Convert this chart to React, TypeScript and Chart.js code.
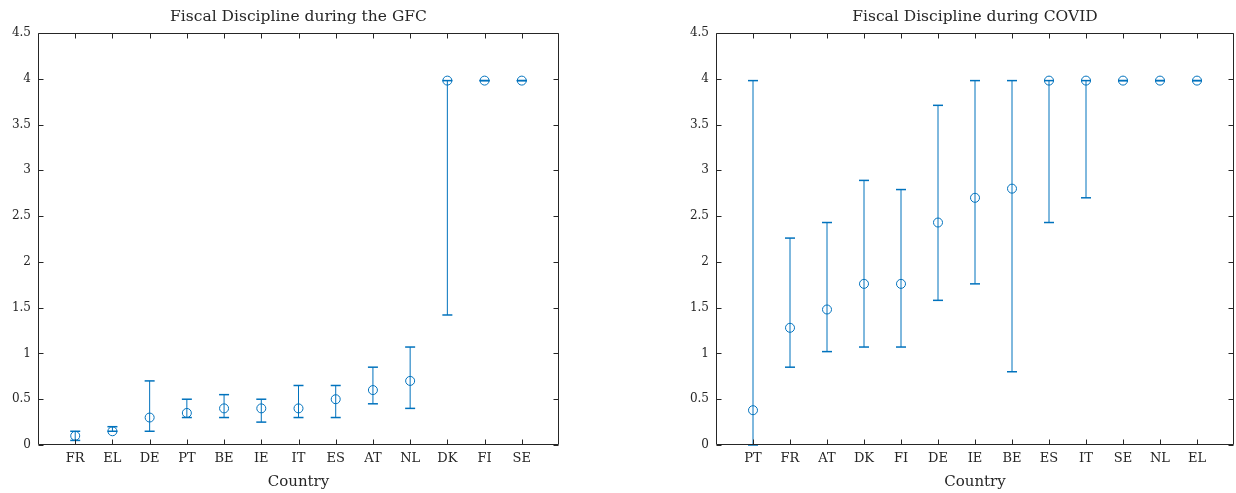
import React, { useEffect, useRef } from "react";
import { Chart, registerables } from "chart.js";

Chart.register(...registerables);

// ---------- data ----------
const gfcCountries = ["FR", "EL", "DE", "PT", "BE", "IE", "IT", "ES", "AT", "NL", "DK", "FI", "SE"];
const gfcValues = [0.1, 0.15, 0.3, 0.35, 0.4, 0.4, 0.4, 0.5, 0.6, 0.7, 3.98, 3.98, 3.98];
const gfcLower = [0.05, 0.15, 0.15, 0.3, 0.3, 0.25, 0.3, 0.3, 0.45, 0.4, 1.42, 3.98, 3.98];
const gfcUpper = [0.15, 0.2, 0.7, 0.5, 0.55, 0.5, 0.65, 0.65, 0.85, 1.07, 3.98, 3.98, 3.98];

const covidCountries = ["PT", "FR", "AT", "DK", "FI", "DE", "IE", "BE", "ES", "IT", "SE", "NL", "EL"];
const covidValues = [0.38, 1.28, 1.48, 1.76, 1.76, 2.43, 2.7, 2.8, 3.98, 3.98, 3.98, 3.98, 3.98];
const covidLower = [0, 0.85, 1.02, 1.07, 1.07, 1.58, 1.76, 0.8, 2.43, 2.7, 3.98, 3.98, 3.98];
const covidUpper = [3.98, 2.26, 2.43, 2.89, 2.79, 3.71, 3.98, 3.98, 3.98, 3.98, 3.98, 3.98, 3.98];

const yTickValues = [0, 0.5, 1, 1.5, 2, 2.5, 3, 3.5, 4, 4.5];

const gfcTitle = "Fiscal Discipline during the GFC";
const covidTitle = "Fiscal Discipline during COVID";
const xAxisLabel = "Country";

// ---------- styles ----------
const AXIS = "#262626";
const BLUE = "#0072BD";
const FONT = "'DejaVu Serif', 'Liberation Serif', serif";

const boxTicks = {
  id: "boxTicks",
  afterDatasetsDraw(chart: any) {
    const { ctx, chartArea: a, scales } = chart;
    const L = Math.round(a.left) + 0.5;
    const R = Math.round(a.right) - 0.5;
    const T = Math.round(a.top) + 0.5;
    const B = Math.round(a.bottom) - 0.5;
    const len = 5;
    ctx.save();
    ctx.strokeStyle = AXIS;
    ctx.lineWidth = 1;
    ctx.beginPath();
    ctx.rect(L, T, R - L, B - T);
    scales.x.ticks.forEach((t: any) => {
      const px = Math.round(scales.x.getPixelForValue(t.value)) + 0.5;
      ctx.moveTo(px, B);
      ctx.lineTo(px, B - len);
      ctx.moveTo(px, T);
      ctx.lineTo(px, T + len);
    });
    scales.y.ticks.forEach((t: any) => {
      const py = Math.round(scales.y.getPixelForValue(t.value)) + 0.5;
      ctx.moveTo(L, py);
      ctx.lineTo(L + len, py);
      ctx.moveTo(R, py);
      ctx.lineTo(R - len, py);
    });
    ctx.stroke();
    ctx.restore();
  },
};

function makeConfig(
  title: string,
  countries: string[],
  values: number[],
  lower: number[],
  upper: number[],
  padLeft: number,
  padRight: number
) {
  const errData: any[] = [];
  countries.forEach((_, i) => {
    errData.push({ x: i + 1, y: lower[i] }, { x: i + 1, y: upper[i] }, { x: i + 1, y: null });
  });
  const pts = countries.map((_, i) => ({ x: i + 1, y: values[i] }));
  return {
    type: "line",
    data: {
      datasets: [
        {
          label: "range",
          data: errData,
          borderColor: BLUE,
          borderWidth: 1,
          pointStyle: "line",
          pointRadius: 5,
          pointBorderWidth: 1.5,
          pointBorderColor: BLUE,
          spanGaps: false,
          clip: false,
          fill: false,
        },
        {
          label: "value",
          data: pts,
          showLine: false,
          pointStyle: "circle",
          pointRadius: 4.5,
          pointBorderWidth: 1,
          pointBorderColor: BLUE,
          pointBackgroundColor: "rgba(0,0,0,0)",
          clip: false,
        },
      ],
    },
    options: {
      responsive: false,
      animation: false,
      events: [],
      layout: { padding: { left: padLeft, right: padRight, top: 0, bottom: 0 } },
      plugins: {
        legend: { display: false },
        tooltip: { enabled: false },
        title: { display: false },
      },
      scales: {
        x: {
          type: "linear",
          position: "bottom",
          min: 0,
          max: 14,
          afterBuildTicks: (s: any) => {
            s.ticks = countries.map((_, i) => ({ value: i + 1 }));
          },
          afterFit: (s: any) => {
            s.height = 48;
          },
          grid: { display: false, drawTicks: false },
          border: { display: false },
          ticks: {
            autoSkip: false,
            maxRotation: 0,
            padding: 6,
            color: AXIS,
            font: { family: FONT, size: 13 },
            callback: (v: any) => countries[Math.round(v) - 1] ?? "",
          },
          title: {
            display: true,
            text: xAxisLabel,
            color: AXIS,
            font: { family: FONT, size: 15 },
            padding: { top: 0, bottom: 2 },
          },
        },
        xTop: {
          type: "linear",
          position: "top",
          min: 0,
          max: 14,
          grid: { display: false, drawTicks: false },
          border: { display: false },
          ticks: { display: false },
          afterFit: (s: any) => {
            s.height = 33;
          },
          title: {
            display: true,
            text: title,
            color: AXIS,
            font: { family: FONT, size: 15.5 },
            padding: { top: 8, bottom: 0 },
          },
        },
        y: {
          type: "linear",
          position: "left",
          min: 0,
          max: 4.5,
          afterBuildTicks: (s: any) => {
            s.ticks = yTickValues.map((v) => ({ value: v }));
          },
          afterFit: (s: any) => {
            s.width = 38;
          },
          grid: { display: false, drawTicks: false },
          border: { display: false },
          ticks: {
            padding: 7,
            color: AXIS,
            font: { family: FONT, size: 12 },
            callback: (v: any) => String(v),
          },
        },
      },
    },
    plugins: [boxTicks],
  } as any;
}

function ChartPanel({ config, left, width }: { config: any; left: number; width: number }) {
  const ref = useRef<HTMLCanvasElement | null>(null);
  useEffect(() => {
    if (!ref.current) return;
    const c = new Chart(ref.current, config);
    return () => c.destroy();
  }, []);
  return (
    <canvas
      ref={ref}
      width={width}
      height={493}
      style={{ position: "absolute", left, top: 0, width, height: 493, display: "block" }}
    />
  );
}

export default function App() {
  const gfc = makeConfig(gfcTitle, gfcCountries, gfcValues, gfcLower, gfcUpper, 0, 59);
  const covid = makeConfig(covidTitle, covidCountries, covidValues, covidLower, covidUpper, 60, 12);
  return (
    <div
      style={{
        position: "fixed",
        left: 0,
        top: 0,
        width: 1236,
        height: 493,
        overflow: "hidden",
        background: "#fff",
      }}
    >
      <ChartPanel config={gfc} left={0} width={618} />
      <ChartPanel config={covid} left={618} width={628} />
    </div>
  );
}
